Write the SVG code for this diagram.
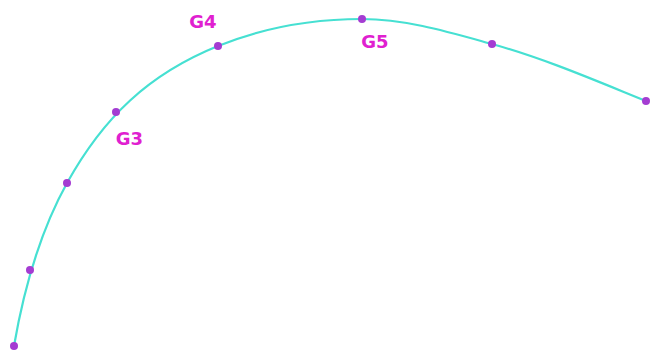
<svg xmlns="http://www.w3.org/2000/svg" width="655" height="351" viewBox="0 0 655 351">
<style>
.curve{fill:none;stroke:#46e0d2;stroke-width:2.2}
.pt{fill:#a43cd2}
.lbl{font-family:"DejaVu Sans",sans-serif;font-weight:bold;font-size:18px;fill:#e020d0}
</style>
<rect width="655" height="351" fill="#ffffff"/>
<g id="connectors">
<path class="curve" d="M14,346 C23.7,289.8 39.3,233 67,183 C103.4,117.4 148.5,74.1 218,46 C263.2,27.7 313.2,19 362,19 C406.1,19 449.5,32.2 492,44 C544.7,58.6 595.3,80.5 646,101"/>
</g>
<g id="p1"><circle class="pt" cx="14" cy="346" r="4"/></g>
<g id="p2"><circle class="pt" cx="30" cy="270" r="4"/></g>
<g id="p3"><circle class="pt" cx="67" cy="183" r="4"/></g>
<g id="G3"><circle class="pt" cx="116" cy="112" r="4"/><text class="lbl" x="129.5" y="145" text-anchor="middle">G3</text></g>
<g id="G4"><circle class="pt" cx="218" cy="46" r="4"/><text class="lbl" x="203" y="28" text-anchor="middle">G4</text></g>
<g id="G5"><circle class="pt" cx="362" cy="19" r="4"/><text class="lbl" x="375" y="48" text-anchor="middle">G5</text></g>
<g id="p7"><circle class="pt" cx="492" cy="44" r="4"/></g>
<g id="p8"><circle class="pt" cx="646" cy="101" r="4"/></g>
</svg>
